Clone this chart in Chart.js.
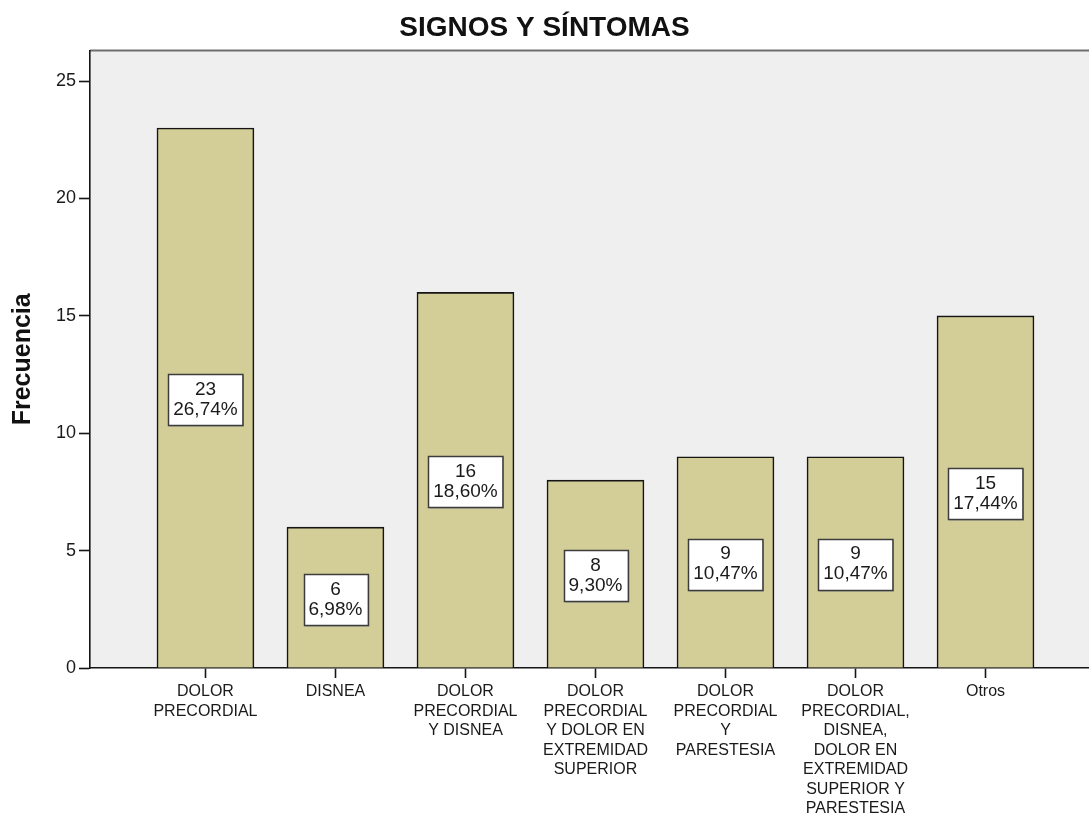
<!DOCTYPE html>
<html>
<head>
<meta charset="utf-8">
<script src="https://cdn.jsdelivr.net/npm/chart.js@4/dist/chart.umd.min.js"></script>
<style>
  html, body { margin: 0; padding: 0; background: #fff; overflow: hidden; }
</style>
</head>
<body>
<canvas id="sintomas-chart" width="1089" height="817"></canvas>
<script>
const categories = [
    ['DOLOR', 'PRECORDIAL'],
    ['DISNEA'],
    ['DOLOR', 'PRECORDIAL', 'Y DISNEA'],
    ['DOLOR', 'PRECORDIAL', 'Y DOLOR EN', 'EXTREMIDAD', 'SUPERIOR'],
    ['DOLOR', 'PRECORDIAL', 'Y', 'PARESTESIA'],
    ['DOLOR', 'PRECORDIAL,', 'DISNEA,', 'DOLOR EN', 'EXTREMIDAD', 'SUPERIOR Y', 'PARESTESIA'],
    ['Otros']
];
const counts = [23, 6, 16, 8, 9, 9, 15];
const percents = ['26,74%', '6,98%', '18,60%', '9,30%', '10,47%', '10,47%', '17,44%'];
const yTicks = [0, 5, 10, 15, 20, 25];

const FONT = "'Liberation Sans', Arial, sans-serif";

// gray plot background + top frame line
const plotBackground = {
    id: 'plotBackground',
    beforeDraw(chart) {
        const {ctx, chartArea: a} = chart;
        ctx.save();
        ctx.fillStyle = '#efefef';
        ctx.fillRect(a.left, a.top, a.right - a.left, a.bottom - a.top);
        ctx.strokeStyle = '#6e6e6e';
        ctx.lineWidth = 2;
        ctx.beginPath();
        ctx.moveTo(a.left, a.top);
        ctx.lineTo(a.right, a.top);
        ctx.stroke();
        ctx.restore();
    }
};

// white boxes with count and percentage in the middle of each bar
const valueBoxes = {
    id: 'valueBoxes',
    afterDatasetsDraw(chart) {
        const {ctx} = chart;
        const bars = chart.getDatasetMeta(0).data;
        ctx.save();
        ctx.font = '19px ' + FONT;
        ctx.textAlign = 'center';
        ctx.textBaseline = 'middle';
        bars.forEach((bar, i) => {
            const cx = bar.x;
            const cy = (bar.y + bar.base) / 2 + 2;
            const l1 = String(counts[i]);
            const l2 = percents[i];
            const w = Math.max(ctx.measureText(l1).width, ctx.measureText(l2).width) + 10;
            const h = 51;
            const x0 = Math.round(cx - w / 2) + 0.5;
            const y0 = Math.round(cy - h / 2) + 0.5;
            ctx.fillStyle = '#9a9a9a';
            ctx.fillRect(x0 + 1, y0 + 1, w, h);
            ctx.fillStyle = '#ffffff';
            ctx.fillRect(x0, y0, w, h);
            ctx.strokeStyle = '#3c3c3c';
            ctx.lineWidth = 1.5;
            ctx.strokeRect(x0, y0, w, h);
            ctx.fillStyle = '#1a1a1a';
            ctx.fillText(l1, cx, cy - 10);
            ctx.fillText(l2, cx, cy + 10);
        });
        ctx.restore();
    }
};

new Chart(document.getElementById('sintomas-chart'), {
    type: 'bar',
    data: {
        datasets: [{
            data: counts.map((v, i) => ({x: i, y: v})),
            backgroundColor: '#d3ce98',
            borderColor: '#151515',
            borderWidth: 1.6,
            barThickness: 97
        }]
    },
    options: {
        responsive: false,
        animation: false,
        layout: {padding: 0},
        scales: {
            x: {
                type: 'linear',
                offset: false,
                min: -0.888,
                max: 6.796,
                afterBuildTicks: (scale) => {
                    scale.ticks = categories.map((c, i) => ({value: i}));
                },
                afterFit: (scale) => { scale.height = 149; },
                grid: {offset: false, drawOnChartArea: false, drawTicks: true, tickLength: 10, tickWidth: 1.6, color: '#151515'},
                border: {display: true, color: '#151515', width: 1.6},
                ticks: {
                    autoSkip: false,
                    maxRotation: 0,
                    padding: 4,
                    color: '#1a1a1a',
                    font: {family: FONT, size: 16, lineHeight: 1.22},
                    callback: (v) => categories[v]
                }
            },
            y: {
                min: 0,
                max: 26.3,
                afterBuildTicks: (scale) => {
                    scale.ticks = yTicks.map(v => ({value: v}));
                },
                afterFit: (scale) => { scale.width = 90; },
                grid: {drawOnChartArea: false, drawTicks: true, tickLength: 11, tickWidth: 1.6, color: '#151515'},
                border: {display: true, color: '#151515', width: 1.6},
                ticks: {
                    padding: 3,
                    color: '#1a1a1a',
                    font: {family: FONT, size: 18}
                },
                title: {
                    display: true,
                    text: 'Frecuencia',
                    color: '#111',
                    padding: {top: 8, bottom: 0},
                    font: {family: FONT, size: 25, weight: 'bold', lineHeight: 1.2}
                }
            }
        },
        plugins: {
            legend: {display: false},
            tooltip: {enabled: false},
            title: {
                display: true,
                text: 'SIGNOS Y SÍNTOMAS',
                color: '#111',
                padding: {top: 11, bottom: 6},
                font: {family: FONT, size: 28, weight: 'bold', lineHeight: 1.2}
            }
        }
    },
    plugins: [plotBackground, valueBoxes]
});
</script>
</body>
</html>
